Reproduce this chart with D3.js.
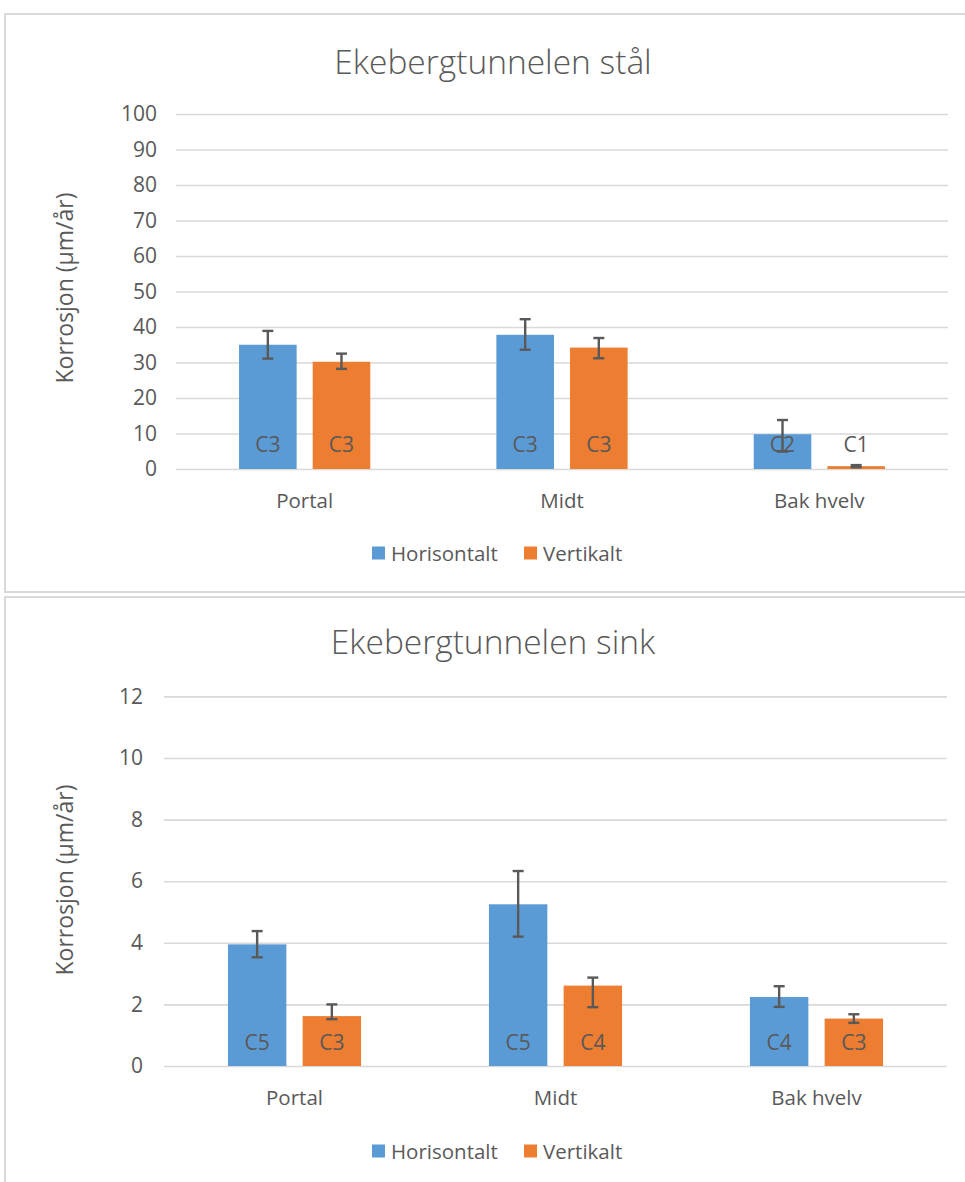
<!DOCTYPE html>
<html>
<head>
<meta charset="utf-8">
<script src="https://cdn.jsdelivr.net/npm/d3@7"></script>
<style>
  html, body { margin: 0; padding: 0; background: #ffffff; }
  svg { display: block; }
  text { font-family: "Open Sans", "Noto Sans", sans-serif; fill: #595959; }
</style>
</head>
<body>
<svg id="chart" width="965" height="1182"></svg>
<script>
// ---------- data ----------
const categories = ["Portal", "Midt", "Bak hvelv"];
const seriesNames = ["Horisontalt", "Vertikalt"];

const stalTitle = "Ekebergtunnelen stål";
const stalHorisontalt = [35.0, 37.8, 9.8];
const stalVertikalt = [30.2, 34.2, 0.8];
const stalHorisErrPlus = [3.9, 4.4, 4.0];
const stalHorisErrMinus = [3.9, 4.2, 4.9];
const stalVertErrPlus = [2.3, 2.7, 0.3];
const stalVertErrMinus = [2.0, 3.0, 0.3];
const stalHorisClass = ["C3", "C3", "C2"];
const stalVertClass = ["C3", "C3", "C1"];
const stalTicks = [0, 10, 20, 30, 40, 50, 60, 70, 80, 90, 100];

const sinkTitle = "Ekebergtunnelen sink";
const sinkHorisontalt = [3.95, 5.25, 2.24];
const sinkVertikalt = [1.62, 2.61, 1.54];
const sinkHorisErrPlus = [0.43, 1.08, 0.35];
const sinkHorisErrMinus = [0.42, 1.05, 0.32];
const sinkVertErrPlus = [0.38, 0.26, 0.14];
const sinkVertErrMinus = [0.10, 0.70, 0.14];
const sinkHorisClass = ["C5", "C5", "C4"];
const sinkVertClass = ["C3", "C4", "C3"];
const sinkTicks = [0, 2, 4, 6, 8, 10, 12];

const yAxisTitle = "Korrosjon (µm/år)";
const colors = ["#5b9bd5", "#ed7d31"];

// ---------- drawing ----------
const svg = d3.select("#chart");

function drawPanel(cfg) {
  const g = svg.append("g");
  // panel border
  g.append("rect")
    .attr("x", cfg.panel[0]).attr("y", cfg.panel[1])
    .attr("width", cfg.panel[2]).attr("height", cfg.panel[3])
    .attr("fill", "#fff").attr("stroke", "#d9d9d9").attr("stroke-width", 2);

  const y = d3.scaleLinear().domain([0, d3.max(cfg.ticks)]).range([cfg.y0, cfg.yTop]);
  const x0 = d3.scaleBand().domain(categories).range([cfg.xL, cfg.xR]).padding(0);
  const bw = x0.bandwidth();
  const x1 = d3.scaleBand().domain(seriesNames)
    .range([bw * 0.245, bw * 0.755]).paddingInner(0.218).paddingOuter(0);

  // title
  g.append("text").attr("x", cfg.titleX).attr("y", cfg.titleY)
    .attr("text-anchor", "middle").attr("dominant-baseline", "central")
    .attr("font-size", 33.5).attr("font-weight", 300)
    .attr("fill", "#595959").text(cfg.title);

  // gridlines
  const yAxis = d3.axisLeft(y).tickValues(cfg.ticks).tickSize(-(cfg.xR - cfg.xL)).tickPadding(cfg.tickPad);
  const ag = g.append("g").attr("transform", `translate(${cfg.xL},0)`).call(yAxis);
  ag.select(".domain").remove();
  ag.selectAll(".tick line").attr("stroke", "#d9d9d9").attr("stroke-width", 1.6);
  ag.selectAll(".tick text").attr("font-size", 21).attr("fill", "#595959")
    .attr("font-family", "Open Sans, sans-serif");

  // y axis title
  g.append("text")
    .attr("transform", `translate(${cfg.yTitleX},${cfg.yTitleY}) rotate(-90)`)
    .attr("text-anchor", "middle").attr("dominant-baseline", "central")
    .attr("font-size", 23).text(yAxisTitle);

  const data = categories.map((c, i) => ({
    cat: c,
    vals: seriesNames.map((s, j) => ({
      s, j,
      v: cfg.values[j][i],
      ep: cfg.errPlus[j][i],
      em: cfg.errMinus[j][i],
      lab: cfg.labels[j][i]
    }))
  }));

  const groups = g.selectAll(".cat").data(data).join("g")
    .attr("transform", d => `translate(${x0(d.cat)},0)`);

  groups.selectAll("rect.bar").data(d => d.vals).join("rect")
    .attr("class", "bar")
    .attr("x", d => x1(d.s)).attr("width", x1.bandwidth())
    .attr("y", d => y(d.v)).attr("height", d => y(0) - y(d.v))
    .attr("fill", d => colors[d.j]);

  // labels (inside base)
  groups.selectAll("text.lab").data(d => d.vals).join("text")
    .attr("class", "lab")
    .attr("x", d => x1(d.s) + x1.bandwidth() / 2)
    .attr("y", y(0) - cfg.labelOffset)
    .attr("text-anchor", "middle").attr("dominant-baseline", "central")
    .attr("font-size", 21).attr("fill", "#404040")
    .text(d => d.lab);

  // error bars
  const eb = groups.selectAll("g.err").data(d => d.vals).join("g").attr("class", "err")
    .attr("stroke", "#595959").attr("stroke-width", 2.4);
  const cap = 5.5;
  eb.append("line")
    .attr("x1", d => x1(d.s) + x1.bandwidth() / 2).attr("x2", d => x1(d.s) + x1.bandwidth() / 2)
    .attr("y1", d => y(d.v + d.ep)).attr("y2", d => y(d.v - d.em));
  eb.append("line")
    .attr("x1", d => x1(d.s) + x1.bandwidth() / 2 - cap).attr("x2", d => x1(d.s) + x1.bandwidth() / 2 + cap)
    .attr("y1", d => y(d.v + d.ep)).attr("y2", d => y(d.v + d.ep));
  eb.append("line")
    .attr("x1", d => x1(d.s) + x1.bandwidth() / 2 - cap).attr("x2", d => x1(d.s) + x1.bandwidth() / 2 + cap)
    .attr("y1", d => y(d.v - d.em)).attr("y2", d => y(d.v - d.em));

  // category labels
  g.selectAll("text.cat").data(categories).join("text")
    .attr("class", "cat")
    .attr("x", d => x0(d) + bw / 2).attr("y", cfg.catY)
    .attr("text-anchor", "middle").attr("dominant-baseline", "central")
    .attr("font-size", 20.5).text(d => d);

  // legend
  const lg = g.append("g").attr("transform", `translate(0,${cfg.legendY})`);
  const legX = [372, 524];
  const li = lg.selectAll("g").data(seriesNames).join("g")
    .attr("transform", (d, i) => `translate(${legX[i]},0)`);
  li.append("rect").attr("x", 0).attr("y", -6.5).attr("width", 13).attr("height", 13)
    .attr("fill", (d, i) => colors[i]);
  li.append("text").attr("x", 19).attr("y", 0).attr("dominant-baseline", "central")
    .attr("font-size", 20.5).text(d => d);
}

drawPanel({
  panel: [5, 14, 962, 578],
  title: stalTitle, titleX: 493, titleY: 61,
  ticks: stalTicks, values: [stalHorisontalt, stalVertikalt],
  errPlus: [stalHorisErrPlus, stalVertErrPlus], errMinus: [stalHorisErrMinus, stalVertErrMinus],
  labels: [stalHorisClass, stalVertClass],
  xL: 176, xR: 948, y0: 469, yTop: 114, tickPad: 19,
  yTitleX: 64, yTitleY: 288, labelOffset: 25, catY: 500, legendY: 553
});

drawPanel({
  panel: [5, 597, 962, 600],
  title: sinkTitle, titleX: 493, titleY: 641,
  ticks: sinkTicks, values: [sinkHorisontalt, sinkVertikalt],
  errPlus: [sinkHorisErrPlus, sinkVertErrPlus], errMinus: [sinkHorisErrMinus, sinkVertErrMinus],
  labels: [sinkHorisClass, sinkVertClass],
  xL: 164, xR: 947, y0: 1066, yTop: 696.4, tickPad: 21,
  yTitleX: 64, yTitleY: 880, labelOffset: 24, catY: 1097, legendY: 1151
});
</script>
</body>
</html>
